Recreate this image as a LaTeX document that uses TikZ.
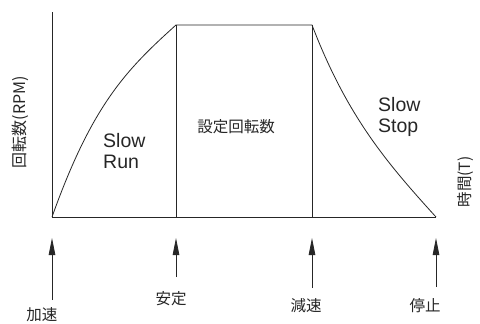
\documentclass[tikz,border=0pt]{standalone}
\usepackage{fontspec}
\setmainfont{Liberation Sans}
\newfontfamily\cjk{Noto Sans CJK JP}
\usetikzlibrary{arrows.meta}
\begin{document}
\begin{tikzpicture}[x=1pt,y=-1pt,
  ln/.style={line width=0.8pt, draw=black!85},
  jp/.style={font=\cjk\fontsize{15.5}{18}\selectfont, text=black!85, inner sep=0pt},
  en/.style={font=\fontsize{19.5}{21}\selectfont, align=left, text=black!85, inner sep=0pt},
  evarrow/.style={line width=0.8pt, draw=black!85, -{Triangle[length=17pt,width=6.5pt]}}]
\useasboundingbox (0,0) rectangle (480,324);
% axes and curve
\coordinate (O) at (52,217);
\coordinate (Ytop) at (52,12);
\coordinate (Xend) at (436,217);
\coordinate (A) at (176,25);
\coordinate (B) at (312,25);
\coordinate (Abot) at (176,217);
\coordinate (Bbot) at (312,217);
\draw[ln] (Ytop) -- (O) -- (Xend);
\draw[ln] (O) .. controls (92,105) and (126,70) .. (A) -- (B) .. controls (347,116) and (386,162) .. (Xend);
\draw[ln] (A) -- (Abot);
\draw[ln] (B) -- (Bbot);
% axis labels
\node[jp, rotate=90, font=\cjk\fontsize{16}{18}\selectfont] (ylab) at (20,122) {回転数(RPM)};
\node[jp, rotate=90] (xlab) at (465,182) {時間(T)};
% region labels
\node[en, anchor=north west] (slowrun) at (103,133) {Slow\\Run};
\node[jp] (setrpm) at (236,127) {設定回転数};
\node[en, anchor=north west] (slowstop) at (378,97) {Slow\\Stop};
% event labels
\node[jp] (accel) at (42,314.5) {加速};
\node[jp] (stable) at (171,299) {安定};
\node[jp] (decel) at (306,306) {減速};
\node[jp] (stop) at (425,306) {停止};
% arrows
\coordinate (t1) at (52,300);  \coordinate (h1) at (52,238);
\coordinate (t2) at (176,277); \coordinate (h2) at (176,238);
\coordinate (t3) at (312,288); \coordinate (h3) at (312,238);
\coordinate (t4) at (436,287); \coordinate (h4) at (436,238);
\draw[evarrow] (t1) -- (h1);
\draw[evarrow] (t2) -- (h2);
\draw[evarrow] (t3) -- (h3);
\draw[evarrow] (t4) -- (h4);
\end{tikzpicture}
\end{document}
